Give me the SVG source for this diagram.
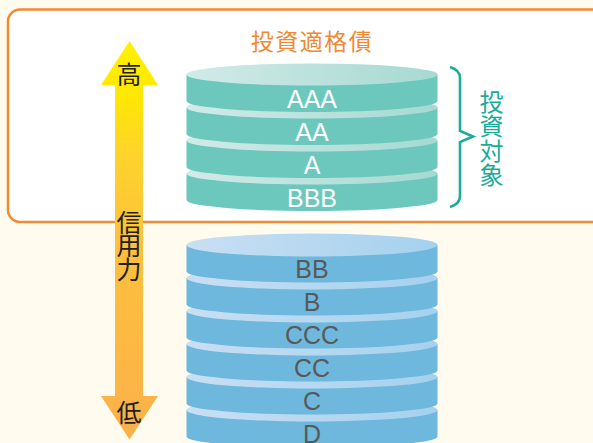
<svg xmlns="http://www.w3.org/2000/svg" xmlns:xlink="http://www.w3.org/1999/xlink" width="593" height="443" viewBox="0 0 593 443">
  <style>
    .tside { fill: #6cc8bd; }
    .ttop { fill: url(#gTealTop); }
    .bside { fill: #6db8dc; }
    .btop { fill: url(#gBlueTop); }
    .lab { font-family: "Liberation Sans", Arial, sans-serif; font-size: 25px; text-anchor: middle; }
    .tlab { fill: #ffffff; }
    .blab { fill: #58595b; }
    .cjk { font-family: "Noto Sans CJK JP", "Noto Sans CJK SC", sans-serif; text-anchor: middle; }
  </style>
  <defs>
    <linearGradient id="gTealTop" x1="0" y1="0" x2="1" y2="0">
      <stop offset="0" stop-color="#d1ebe7"/>
      <stop offset="1" stop-color="#a6d9d2"/>
    </linearGradient>
    <linearGradient id="gBlueTop" x1="0" y1="0" x2="1" y2="0">
      <stop offset="0" stop-color="#c9dff3"/>
      <stop offset="1" stop-color="#a5d1ee"/>
    </linearGradient>
    <linearGradient id="gArrow" gradientUnits="userSpaceOnUse" x1="0" y1="41" x2="0" y2="440">
      <stop offset="0" stop-color="#fff100"/>
      <stop offset="0.13" stop-color="#ffe800"/>
      <stop offset="0.28" stop-color="#fed42a"/>
      <stop offset="0.5" stop-color="#fdc13c"/>
      <stop offset="1" stop-color="#fbb04a"/>
    </linearGradient>
    <g id="tdisk">
      <path class="tside" d="M186.5,0 V26.5 A125.5,11 0 0 0 437.5,26.5 V0 Z"/>
      <ellipse class="ttop" cx="312" cy="0" rx="125.5" ry="11"/>
    </g>
    <g id="bdisk">
      <path class="bside" d="M186.5,0 V26.5 A125.5,11 0 0 0 437.5,26.5 V0 Z"/>
      <ellipse class="btop" cx="312" cy="0" rx="125.5" ry="11.5"/>
    </g>
  </defs>

  <rect width="593" height="443" fill="#fffcef"/>

  <g id="investment-grade-frame">
    <rect x="8" y="9.5" width="600" height="212.5" rx="12" ry="12" fill="#ffffff" stroke="#f28a30" stroke-width="2.5"/>
    <text class="cjk" x="312" y="49.5" font-size="23" letter-spacing="1.5" fill="#f08a32">投資適格債</text>
  </g>

  <g id="top-cylinder">
    <g id="disk-BBB"><use xlink:href="#tdisk" href="#tdisk" y="173.5"/><text class="lab tlab" x="312" y="206.5">BBB</text></g>
    <g id="disk-A"><use xlink:href="#tdisk" href="#tdisk" y="140.5"/><text class="lab tlab" x="312" y="173.5">A</text></g>
    <g id="disk-AA"><use xlink:href="#tdisk" href="#tdisk" y="107.5"/><text class="lab tlab" x="312" y="140.5">AA</text></g>
    <g id="disk-AAA"><use xlink:href="#tdisk" href="#tdisk" y="74.5"/><text class="lab tlab" x="312" y="107.5">AAA</text></g>
  </g>

  <g id="bottom-cylinder">
    <g id="disk-D"><use xlink:href="#bdisk" href="#bdisk" y="410"/><text class="lab blab" x="312" y="443">D</text></g>
    <g id="disk-C"><use xlink:href="#bdisk" href="#bdisk" y="377"/><text class="lab blab" x="312" y="410">C</text></g>
    <g id="disk-CC"><use xlink:href="#bdisk" href="#bdisk" y="344"/><text class="lab blab" x="312" y="377">CC</text></g>
    <g id="disk-CCC"><use xlink:href="#bdisk" href="#bdisk" y="311"/><text class="lab blab" x="312" y="344">CCC</text></g>
    <g id="disk-B"><use xlink:href="#bdisk" href="#bdisk" y="278"/><text class="lab blab" x="312" y="311">B</text></g>
    <g id="disk-BB"><use xlink:href="#bdisk" href="#bdisk" y="245"/><text class="lab blab" x="312" y="278">BB</text></g>
  </g>

  <g id="connectors">
    <g id="credit-arrow">
      <polygon points="129.5,41 158,85 143,85 143,396 158,396 129.5,439.5 101,396 115,396 115,85 101,85" fill="url(#gArrow)"/>
      <text class="cjk" font-size="25" fill="#231f20" x="129" y="84">高</text>
      <text class="cjk" font-size="25" fill="#231f20"><tspan x="129" y="231.5">信</tspan><tspan x="129" y="255">用</tspan><tspan x="129" y="278.5">力</tspan></text>
      <text class="cjk" font-size="25" fill="#231f20" x="129" y="421.5">低</text>
    </g>
    <g id="investment-target-brace">
      <path d="M450,67 Q460,70 460,78 L460,131 L473,136.5 L460,142 L460,196 Q460,204 450,207" fill="none" stroke="#1aab99" stroke-width="2.6" stroke-linejoin="miter"/>
      <text class="cjk" font-size="24" fill="#1aab99"><tspan x="491.5" y="110.5">投</tspan><tspan x="491.5" y="135">資</tspan><tspan x="491.5" y="159.5">対</tspan><tspan x="491.5" y="184">象</tspan></text>
    </g>
  </g>
</svg>
